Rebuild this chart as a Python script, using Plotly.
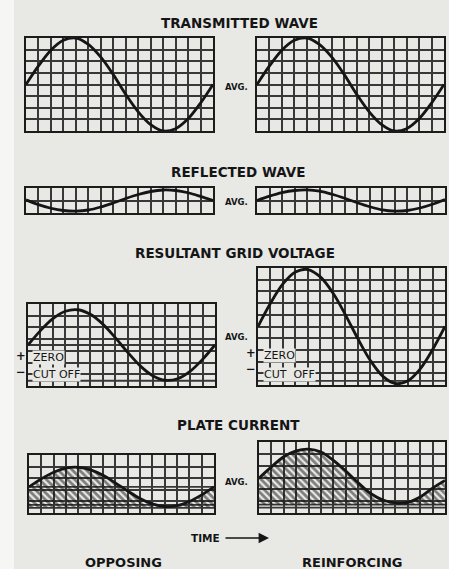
import plotly.graph_objects as go

W, H = 449, 569
PAGE = "#e8e8e5"
INK = "#151515"
GRID = "#383838"

# ---- data (in grid units) ----
cols = list(range(16))  # x position in grid columns (15 columns per panel)
transmitted_opp = [0, 1.6, 2.95, 3.8, 4.0, 3.45, 2.35, 0.85, -0.85, -2.35, -3.45, -4.0, -3.8, -2.95, -1.6, 0]
transmitted_rein = [0, 1.6, 2.95, 3.8, 4.0, 3.45, 2.35, 0.85, -0.85, -2.35, -3.45, -4.0, -3.8, -2.95, -1.6, 0]
reflected_opp = [0.05, -0.33, -0.62, -0.8, -0.85, -0.76, -0.52, -0.2, 0.16, 0.48, 0.72, 0.84, 0.8, 0.62, 0.33, 0.0]
reflected_rein = [0, 0.35, 0.63, 0.8, 0.85, 0.75, 0.5, 0.18, -0.18, -0.5, -0.75, -0.85, -0.8, -0.6, -0.3, 0.08]
grid_opp = [3.5, 4.73, 5.75, 6.38, 6.51, 6.12, 5.28, 4.13, 2.87, 1.72, 0.88, 0.49, 0.62, 1.25, 2.27, 3.5]
grid_rein = [5.0, 6.99, 8.64, 9.66, 9.87, 9.24, 7.88, 6.02, 3.98, 2.12, 0.76, 0.13, 0.34, 1.36, 3.01, 5.0]
plate_opp = [2.25, 2.94, 3.51, 3.87, 3.94, 3.72, 3.25, 2.6, 1.9, 1.25, 0.78, 0.56, 0.63, 0.99, 1.56, 2.25]
plate_rein = [2.95, 3.9, 4.75, 5.25, 5.4, 5.15, 4.45, 3.55, 2.55, 1.65, 1.1, 0.85, 0.9, 1.35, 2.1, 2.75]
plate_floor_opp = 0.5
plate_floor_rein = 0.7

titles = ["TRANSMITTED WAVE", "REFLECTED WAVE", "RESULTANT GRID VOLTAGE", "PLATE CURRENT"]
columns = ["OPPOSING", "REINFORCING"]

# ---- panel layout (pixel boxes) ----
panels = [
    dict(box=(26, 213, 38, 131), yr=(-4, 4), y=transmitted_opp, extra=[]),
    dict(box=(257, 444, 38, 131), yr=(-4, 4), y=transmitted_rein, extra=[]),
    dict(box=(26, 213, 188, 213), yr=(-1, 1), y=reflected_opp, extra=[]),
    dict(box=(257, 445, 188, 213), yr=(-1, 1), y=reflected_rein, extra=[]),
    dict(box=(28, 215, 304, 386), yr=(0, 7), y=grid_opp, extra=[3.5, 0.45]),
    dict(box=(258, 445, 268, 385), yr=(0, 10), y=grid_rein, extra=[0.35]),
    dict(box=(29, 214, 455, 513), yr=(0, 5), y=plate_opp, extra=[2.25, 0.7, 0.45], floor=plate_floor_opp),
    dict(box=(259, 445, 442, 513), yr=(0, 6), y=plate_rein, extra=[0.7, 0.45], floor=plate_floor_rein),
]


def px(x):
    return x / W


def py(y):
    return 1 - y / H


fig = go.Figure()
layout = {}
shapes = []
for i, p in enumerate(panels, start=1):
    x0, x1, y0, y1 = p["box"]
    xa = "x" if i == 1 else f"x{i}"
    ya = "y" if i == 1 else f"y{i}"
    xk = "xaxis" if i == 1 else f"xaxis{i}"
    yk = "yaxis" if i == 1 else f"yaxis{i}"
    layout[xk] = dict(domain=[px(x0), px(x1)], range=[0, 15], dtick=1, tick0=0,
                      showgrid=True, gridcolor=GRID, gridwidth=1.8, zeroline=False,
                      showticklabels=False, ticks="", showline=True, mirror=True,
                      linecolor="#1c1c1c", linewidth=2.2, anchor=ya, fixedrange=True)
    layout[yk] = dict(domain=[py(y1), py(y0)], range=list(p["yr"]), dtick=1, tick0=0,
                      showgrid=True, gridcolor=GRID, gridwidth=1.8, zeroline=False,
                      showticklabels=False, ticks="", showline=True, mirror=True,
                      linecolor="#1c1c1c", linewidth=2.2, anchor=xa, fixedrange=True)
    for ly in p["extra"]:
        shapes.append(dict(type="line", xref=xa, yref=ya, x0=0, x1=15, y0=ly, y1=ly,
                           line=dict(color=GRID, width=1.8), layer="below"))
    if "floor" in p:
        fig.add_trace(go.Scatter(x=cols, y=[p["floor"]] * len(cols), mode="lines",
                                 line=dict(width=0), xaxis=xa, yaxis=ya,
                                 hoverinfo="skip", showlegend=False))
        fig.add_trace(go.Scatter(x=cols, y=p["y"], mode="lines", fill="tonexty",
                                 fillcolor="rgba(0,0,0,0)",
                                 fillpattern=dict(shape="\\", fgcolor="#111111", size=5,
                                                  solidity=0.55, fillmode="overlay"),
                                 line=dict(color=INK, width=2.8, shape="spline", smoothing=1),
                                 xaxis=xa, yaxis=ya, showlegend=False))
    else:
        fig.add_trace(go.Scatter(x=cols, y=p["y"], mode="lines",
                                 line=dict(color=INK, width=2.8, shape="spline", smoothing=1),
                                 xaxis=xa, yaxis=ya, showlegend=False))

# whiter left margin of the scan
shapes.insert(0, dict(type="rect", xref="paper", yref="paper", x0=0, x1=px(14), y0=0, y1=1,
                      fillcolor="#f6f6f4", line=dict(width=0), layer="below"))

TITLE_FONT = dict(family="DejaVu Sans", size=13.5, color=INK, weight="bold")
SMALL_FONT = dict(family="DejaVu Sans", size=8.5, color=INK, weight="bold")
LABEL_FONT = dict(family="DejaVu Sans", size=11, color=INK)
SIGN_FONT = dict(family="DejaVu Sans", size=11.5, color=INK, weight="bold")

ann = []


def text(t, x, y, font, xanchor="center", bg=None):
    d = dict(text=t, x=px(x), y=py(y), xref="paper", yref="paper", showarrow=False,
             font=font, xanchor=xanchor, yanchor="middle")
    if bg:
        d.update(bgcolor=bg, borderpad=0)
    ann.append(d)


text(titles[0], 239, 23, TITLE_FONT)
text(titles[1], 238, 172, TITLE_FONT)
text(titles[2], 235, 253, TITLE_FONT)
text(titles[3], 238, 425, TITLE_FONT)

for yy in (87, 202, 337, 482):
    text("AVG.", 237, yy, SMALL_FONT)

# left resultant labels
text("+", 21, 356, SIGN_FONT)
text("−", 21, 372, SIGN_FONT)
text("ZERO", 32, 357, LABEL_FONT, xanchor="left", bg=PAGE)
text("CUT OFF", 32, 374, LABEL_FONT, xanchor="left", bg=PAGE)
# right resultant labels
text("+", 251, 353, SIGN_FONT)
text("−", 251, 369, SIGN_FONT)
text("ZERO", 263, 355, LABEL_FONT, xanchor="left", bg=PAGE)
text("CUT  OFF", 263, 374, LABEL_FONT, xanchor="left", bg=PAGE)

text("TIME", 205, 538, dict(family="DejaVu Sans", size=10.5, color=INK, weight="bold"))
ann.append(dict(text="", x=px(269), y=py(538), xref="paper", yref="paper",
                ax=-45, ay=0, axref="pixel", ayref="pixel",
                showarrow=True, arrowhead=2, arrowsize=1.3, arrowwidth=1.6, arrowcolor=INK))

BOTTOM_FONT = dict(family="DejaVu Sans", size=13, color=INK, weight="bold")
ann.append(dict(text=columns[0], x=px(123), y=0, xref="paper", yref="paper", showarrow=False,
                font=BOTTOM_FONT, xanchor="center", yanchor="bottom", yshift=-3))
ann.append(dict(text=columns[1], x=px(352), y=0, xref="paper", yref="paper", showarrow=False,
                font=BOTTOM_FONT, xanchor="center", yanchor="bottom", yshift=-3))

fig.update_layout(width=W, height=H, margin=dict(l=0, r=0, t=0, b=0),
                  paper_bgcolor=PAGE, plot_bgcolor=PAGE, showlegend=False,
                  shapes=shapes, annotations=ann, **layout)

fig.write_html("out.html", config=dict(displayModeBar=False))
